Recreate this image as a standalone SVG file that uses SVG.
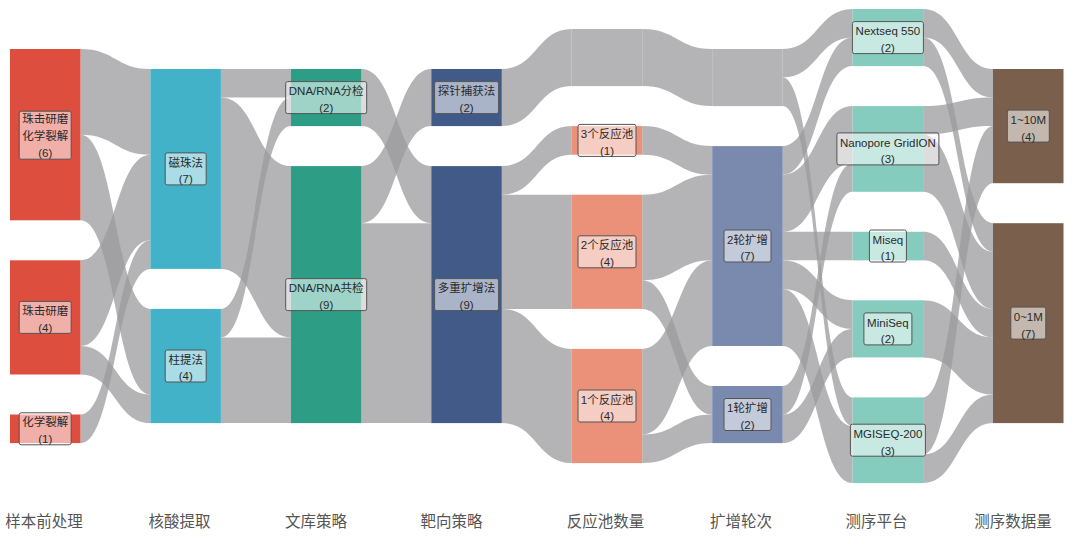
<svg xmlns="http://www.w3.org/2000/svg" width="1080" height="544" viewBox="0 0 1080 544">
<style>
.lk{fill:#9b9b9e;fill-opacity:0.75}
.hid{fill:#b4b4b6}
.lb{fill:#fff;fill-opacity:0.55;stroke:#555;stroke-width:1}
.lt{font-family:"Liberation Sans","Noto Sans CJK SC",sans-serif;font-size:11.5px;fill:#2a2a2a;text-anchor:middle}
.ax{font-family:"Liberation Sans","Noto Sans CJK SC",sans-serif;font-size:15.5px;fill:#555;text-anchor:middle}
.c0{fill:#dd4e3e}.c1{fill:#41b2c8}.c2{fill:#2e9d86}.c3{fill:#425a88}.c4{fill:#eb9079}.c5{fill:#7a8aae}.c6{fill:#85ccbe}.c7{fill:#7a5f4d}
</style>
<rect width="1080" height="544" fill="#fff"/>
<g id="links">
<path class="lk" d="M80.5,49 C115.5,49 115.5,69 150.4,69 L150.4,154.7 C115.5,154.7 115.5,134.7 80.5,134.7 Z"/>
<path class="lk" d="M80.5,134.7 C115.5,134.7 115.5,308.9 150.4,308.9 L150.4,394.5 C115.5,394.5 115.5,220.3 80.5,220.3 Z"/>
<path class="lk" d="M80.5,260.3 C115.5,260.3 115.5,154.7 150.4,154.7 L150.4,240.3 C115.5,240.3 115.5,346 80.5,346 Z"/>
<path class="lk" d="M80.5,346 C115.5,346 115.5,394.5 150.4,394.5 L150.4,423.1 C115.5,423.1 115.5,374.5 80.5,374.5 Z"/>
<path class="lk" d="M80.5,414.5 C115.5,414.5 115.5,240.3 150.4,240.3 L150.4,268.9 C115.5,268.9 115.5,443.1 80.5,443.1 Z"/>
<path class="lk" d="M220.9,69 L290.9,69 L290.9,97.6 L220.9,97.6 Z"/>
<path class="lk" d="M220.9,97.6 C255.9,97.6 255.9,166.1 290.9,166.1 L290.9,337.4 C255.9,337.4 255.9,268.9 220.9,268.9 Z"/>
<path class="lk" d="M220.9,308.9 C255.9,308.9 255.9,97.6 290.9,97.6 L290.9,126.1 C255.9,126.1 255.9,337.4 220.9,337.4 Z"/>
<path class="lk" d="M220.9,337.4 L290.9,337.4 L290.9,423.1 L220.9,423.1 Z"/>
<path class="lk" d="M361.4,69 C396.4,69 396.4,166.1 431.3,166.1 L431.3,223.2 C396.4,223.2 396.4,126.1 361.4,126.1 Z"/>
<path class="lk" d="M361.4,166.1 C396.4,166.1 396.4,69 431.3,69 L431.3,126.1 C396.4,126.1 396.4,223.2 361.4,223.2 Z"/>
<path class="lk" d="M361.4,223.2 L431.3,223.2 L431.3,423.1 L361.4,423.1 Z"/>
<path class="lk" d="M501.8,69 C536.8,69 536.8,29 571.7,29 L571.7,86.1 C536.8,86.1 536.8,126.1 501.8,126.1 Z"/>
<path class="lk" d="M501.8,166.1 C536.8,166.1 536.8,126.1 571.7,126.1 L571.7,154.7 C536.8,154.7 536.8,194.7 501.8,194.7 Z"/>
<path class="lk" d="M501.8,194.7 L571.7,194.7 L571.7,308.9 L501.8,308.9 Z"/>
<path class="lk" d="M501.8,308.9 C536.8,308.9 536.8,348.9 571.7,348.9 L571.7,463.1 C536.8,463.1 536.8,423.1 501.8,423.1 Z"/>
<path class="lk" d="M642.2,29 C677.2,29 677.2,49 712.2,49 L712.2,106.1 C677.2,106.1 677.2,86.1 642.2,86.1 Z"/>
<path class="lk" d="M642.2,126.1 C677.2,126.1 677.2,146.1 712.2,146.1 L712.2,174.7 C677.2,174.7 677.2,154.7 642.2,154.7 Z"/>
<path class="lk" d="M642.2,194.7 C677.2,194.7 677.2,174.7 712.2,174.7 L712.2,260.3 C677.2,260.3 677.2,280.3 642.2,280.3 Z"/>
<path class="lk" d="M642.2,280.3 C677.2,280.3 677.2,386 712.2,386 L712.2,414.5 C677.2,414.5 677.2,308.9 642.2,308.9 Z"/>
<path class="lk" d="M642.2,348.9 C677.2,348.9 677.2,260.3 712.2,260.3 L712.2,346 C677.2,346 677.2,434.5 642.2,434.5 Z"/>
<path class="lk" d="M642.2,434.5 C677.2,434.5 677.2,414.5 712.2,414.5 L712.2,443.1 C677.2,443.1 677.2,463.1 642.2,463.1 Z"/>
<path class="lk" d="M782.7,49 C817.7,49 817.7,9 852.6,9 L852.6,37.6 C817.7,37.6 817.7,77.6 782.7,77.6 Z"/>
<path class="lk" d="M782.7,77.6 C817.7,77.6 817.7,397.4 852.6,397.4 L852.6,426 C817.7,426 817.7,106.1 782.7,106.1 Z"/>
<path class="lk" d="M782.7,146.1 C817.7,146.1 817.7,37.6 852.6,37.6 L852.6,66.1 C817.7,66.1 817.7,174.7 782.7,174.7 Z"/>
<path class="lk" d="M782.7,174.7 C817.7,174.7 817.7,106.1 852.6,106.1 L852.6,163.2 C817.7,163.2 817.7,231.8 782.7,231.8 Z"/>
<path class="lk" d="M782.7,231.8 L852.6,231.8 L852.6,260.3 L782.7,260.3 Z"/>
<path class="lk" d="M782.7,260.3 C817.7,260.3 817.7,300.3 852.6,300.3 L852.6,328.9 C817.7,328.9 817.7,288.9 782.7,288.9 Z"/>
<path class="lk" d="M782.7,288.9 C817.7,288.9 817.7,426 852.6,426 L852.6,483.1 C817.7,483.1 817.7,346 782.7,346 Z"/>
<path class="lk" d="M782.7,386 C817.7,386 817.7,163.2 852.6,163.2 L852.6,191.8 C817.7,191.8 817.7,414.5 782.7,414.5 Z"/>
<path class="lk" d="M782.7,414.5 C817.7,414.5 817.7,328.9 852.6,328.9 L852.6,357.4 C817.7,357.4 817.7,443.1 782.7,443.1 Z"/>
<path class="lk" d="M923.1,9 C958.1,9 958.1,69 993,69 L993,97.6 C958.1,97.6 958.1,37.6 923.1,37.6 Z"/>
<path class="lk" d="M923.1,37.6 C958.1,37.6 958.1,223.2 993,223.2 L993,251.8 C958.1,251.8 958.1,66.1 923.1,66.1 Z"/>
<path class="lk" d="M923.1,106.1 C958.1,106.1 958.1,97.6 993,97.6 L993,126.1 C958.1,126.1 958.1,134.7 923.1,134.7 Z"/>
<path class="lk" d="M923.1,134.7 C958.1,134.7 958.1,251.8 993,251.8 L993,308.9 C958.1,308.9 958.1,191.8 923.1,191.8 Z"/>
<path class="lk" d="M923.1,231.8 C958.1,231.8 958.1,308.9 993,308.9 L993,337.4 C958.1,337.4 958.1,260.3 923.1,260.3 Z"/>
<path class="lk" d="M923.1,300.3 C958.1,300.3 958.1,337.4 993,337.4 L993,394.5 C958.1,394.5 958.1,357.4 923.1,357.4 Z"/>
<path class="lk" d="M923.1,397.4 C958.1,397.4 958.1,126.1 993,126.1 L993,183.2 C958.1,183.2 958.1,454.5 923.1,454.5 Z"/>
<path class="lk" d="M923.1,454.5 C958.1,454.5 958.1,394.5 993,394.5 L993,423.1 C958.1,423.1 958.1,483.1 923.1,483.1 Z"/>
</g>
<g id="n-sample-bead-chem">
<rect class="c0" x="10" y="49" width="70.5" height="171.3"/>
<rect class="lb" x="19.2" y="111.2" width="52" height="48" rx="2"/>
<text class="lt" x="45.2" y="123.4">珠击研磨</text><text class="lt" x="45.2" y="140.2">化学裂解</text><text class="lt" x="45.2" y="157">(6)</text>
</g>
<g id="n-sample-bead">
<rect class="c0" x="10" y="260.3" width="70.5" height="114.2"/>
<rect class="lb" x="19.2" y="301.4" width="52" height="32" rx="2"/>
<text class="lt" x="45.2" y="315">珠击研磨</text><text class="lt" x="45.2" y="331.8">(4)</text>
</g>
<g id="n-sample-chem">
<rect class="c0" x="10" y="414.5" width="70.5" height="28.6"/>
<rect class="lb" x="19.2" y="412.8" width="52" height="32" rx="2"/>
<text class="lt" x="45.2" y="426.4">化学裂解</text><text class="lt" x="45.2" y="443.2">(1)</text>
</g>
<g id="n-extract-bead">
<rect class="c1" x="150.4" y="69" width="70.5" height="199.9"/>
<rect class="lb" x="165.2" y="152.9" width="41" height="32" rx="2"/>
<text class="lt" x="185.7" y="166.5">磁珠法</text><text class="lt" x="185.7" y="183.3">(7)</text>
</g>
<g id="n-extract-column">
<rect class="c1" x="150.4" y="308.9" width="70.5" height="114.2"/>
<rect class="lb" x="165.2" y="350" width="41" height="32" rx="2"/>
<text class="lt" x="185.7" y="363.6">柱提法</text><text class="lt" x="185.7" y="380.4">(4)</text>
</g>
<g id="n-lib-separate">
<rect class="c2" x="290.9" y="69" width="70.5" height="57.1"/>
<rect class="lb" x="285.7" y="81.6" width="81" height="32" rx="2"/>
<text class="lt" x="326.2" y="95.2">DNA/RNA分检</text><text class="lt" x="326.2" y="112">(2)</text>
</g>
<g id="n-lib-joint">
<rect class="c2" x="290.9" y="166.1" width="70.5" height="257"/>
<rect class="lb" x="285.7" y="278.6" width="81" height="32" rx="2"/>
<text class="lt" x="326.2" y="292.2">DNA/RNA共检</text><text class="lt" x="326.2" y="309">(9)</text>
</g>
<g id="n-target-probe">
<rect class="c3" x="431.3" y="69" width="70.5" height="57.1"/>
<rect class="lb" x="434.6" y="81.6" width="64" height="32" rx="2"/>
<text class="lt" x="466.6" y="95.2">探针捕获法</text><text class="lt" x="466.6" y="112">(2)</text>
</g>
<g id="n-target-multiplex">
<rect class="c3" x="431.3" y="166.1" width="70.5" height="257"/>
<rect class="lb" x="434.6" y="278.6" width="64" height="32" rx="2"/>
<text class="lt" x="466.6" y="292.2">多重扩增法</text><text class="lt" x="466.6" y="309">(9)</text>
</g>
<g id="n-pool-hidden">
<rect class="hid" x="571.7" y="29" width="70.5" height="57.1"/>
</g>
<g id="n-pool-3">
<rect class="c4" x="571.7" y="126.1" width="70.5" height="28.6"/>
<rect class="lb" x="578" y="124.4" width="58" height="32" rx="2"/>
<text class="lt" x="607" y="138">3个反应池</text><text class="lt" x="607" y="154.8">(1)</text>
</g>
<g id="n-pool-2">
<rect class="c4" x="571.7" y="194.7" width="70.5" height="114.2"/>
<rect class="lb" x="578" y="235.8" width="58" height="32" rx="2"/>
<text class="lt" x="607" y="249.4">2个反应池</text><text class="lt" x="607" y="266.2">(4)</text>
</g>
<g id="n-pool-1">
<rect class="c4" x="571.7" y="348.9" width="70.5" height="114.2"/>
<rect class="lb" x="578" y="390" width="58" height="32" rx="2"/>
<text class="lt" x="607" y="403.6">1个反应池</text><text class="lt" x="607" y="420.4">(4)</text>
</g>
<g id="n-round-hidden">
<rect class="hid" x="712.2" y="49" width="70.5" height="57.1"/>
</g>
<g id="n-round-2">
<rect class="c5" x="712.2" y="146.1" width="70.5" height="199.9"/>
<rect class="lb" x="724" y="230" width="47" height="32" rx="2"/>
<text class="lt" x="747.5" y="243.6">2轮扩增</text><text class="lt" x="747.5" y="260.4">(7)</text>
</g>
<g id="n-round-1">
<rect class="c5" x="712.2" y="386" width="70.5" height="57.1"/>
<rect class="lb" x="724" y="398.5" width="47" height="32" rx="2"/>
<text class="lt" x="747.5" y="412.1">1轮扩增</text><text class="lt" x="747.5" y="428.9">(2)</text>
</g>
<g id="n-seq-nextseq">
<rect class="c6" x="852.6" y="9" width="70.5" height="57.1"/>
<rect class="lb" x="852.4" y="21.6" width="71" height="32" rx="2"/>
<text class="lt" x="887.9" y="35.2">Nextseq 550</text><text class="lt" x="887.9" y="52">(2)</text>
</g>
<g id="n-seq-nanopore">
<rect class="c6" x="852.6" y="106.1" width="70.5" height="85.7"/>
<rect class="lb" x="836.9" y="132.9" width="102" height="32" rx="2"/>
<text class="lt" x="887.9" y="146.5">Nanopore GridION</text><text class="lt" x="887.9" y="163.3">(3)</text>
</g>
<g id="n-seq-miseq">
<rect class="c6" x="852.6" y="231.8" width="70.5" height="28.6"/>
<rect class="lb" x="869.4" y="230" width="37" height="32" rx="2"/>
<text class="lt" x="887.9" y="243.6">Miseq</text><text class="lt" x="887.9" y="260.4">(1)</text>
</g>
<g id="n-seq-miniseq">
<rect class="c6" x="852.6" y="300.3" width="70.5" height="57.1"/>
<rect class="lb" x="863.9" y="312.9" width="48" height="32" rx="2"/>
<text class="lt" x="887.9" y="326.5">MiniSeq</text><text class="lt" x="887.9" y="343.3">(2)</text>
</g>
<g id="n-seq-mgiseq">
<rect class="c6" x="852.6" y="397.4" width="70.5" height="85.7"/>
<rect class="lb" x="850.4" y="424.2" width="75" height="32" rx="2"/>
<text class="lt" x="887.9" y="437.8">MGISEQ-200</text><text class="lt" x="887.9" y="454.6">(3)</text>
</g>
<g id="n-data-1-10m">
<rect class="c7" x="993" y="69" width="70.5" height="114.2"/>
<rect class="lb" x="1007.3" y="110.1" width="42" height="32" rx="2"/>
<text class="lt" x="1028.3" y="123.7">1~10M</text><text class="lt" x="1028.3" y="140.5">(4)</text>
</g>
<g id="n-data-0-1m">
<rect class="c7" x="993" y="223.2" width="70.5" height="199.9"/>
<rect class="lb" x="1010.8" y="307.1" width="35" height="32" rx="2"/>
<text class="lt" x="1028.3" y="320.7">0~1M</text><text class="lt" x="1028.3" y="337.5">(7)</text>
</g>
<g id="axis-labels">
<text class="ax" x="44" y="527">样本前处理</text>
<text class="ax" x="179.5" y="527">核酸提取</text>
<text class="ax" x="316" y="527">文库策略</text>
<text class="ax" x="451.5" y="527">靶向策略</text>
<text class="ax" x="605.5" y="527">反应池数量</text>
<text class="ax" x="741" y="527">扩增轮次</text>
<text class="ax" x="876.5" y="527">测序平台</text>
<text class="ax" x="1013" y="527">测序数据量</text>
</g>
</svg>
